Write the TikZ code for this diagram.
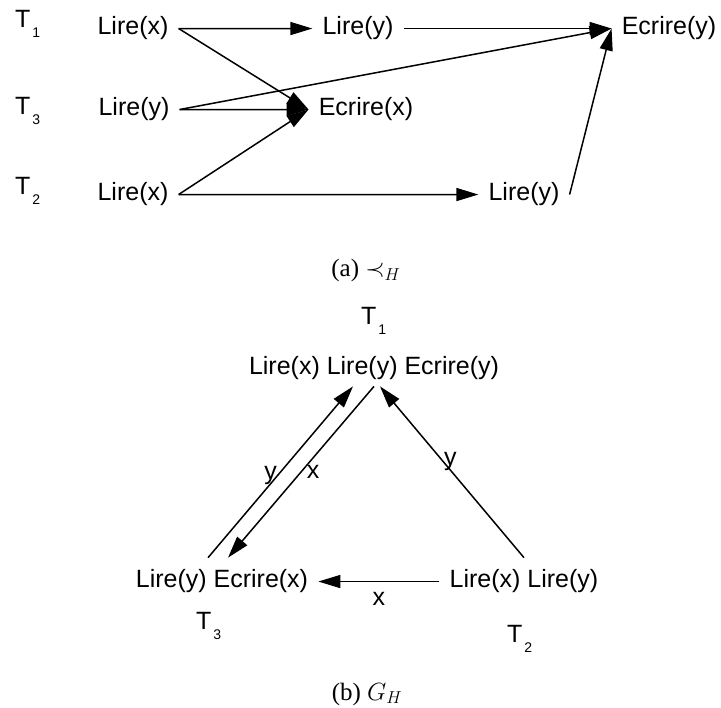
\documentclass[tikz,border=0pt]{standalone}
\usepackage{fontspec}
\setmainfont{Liberation Serif}
\setsansfont{Liberation Sans}
\usetikzlibrary{arrows.meta}

\newcommand{\tlab}[1]{T\kern2pt\raisebox{-10pt}{\fontsize{14}{14}\selectfont #1}}

\begin{document}
\begin{tikzpicture}[x=1pt, y=-1pt,
      every node/.style={font=\sffamily\fontsize{25}{29}\selectfont},
      op/.style={inner xsep=10pt, inner ysep=6pt, anchor=base},
      tr/.style={anchor=base west, inner sep=0pt},
      ar/.style={-{Triangle[length=22pt,width=13pt]}, line width=1.5pt},
      lbl/.style={inner sep=1pt},
      captxt/.style={font=\rmfamily\fontsize{25}{29}\selectfont, anchor=base}
    ]
      \useasboundingbox (0,0) rectangle (721,708);

      % (a): the three transactions, one per row
      \node[tr] (t1) at (15,28)  {\tlab{1}};
      \node[tr] (t3) at (15,115) {\tlab{3}};
      \node[tr] (t2) at (15,195) {\tlab{2}};

      \node[op] (lx1) at (133,35)  {Lire(x)};
      \node[op] (ly1) at (358,35)  {Lire(y)};
      \node[op] (ey)  at (669,35)  {Ecrire(y)};
      \node[op] (ly3) at (134,116) {Lire(y)};
      \node[op] (ex)  at (366,116) {Ecrire(x)};
      \node[op] (lx2) at (133,201) {Lire(x)};
      \node[op] (ly2) at (524,201) {Lire(y)};

      \draw[ar] (lx1) -- (ly1);
      \draw[ar] (lx1.east) -- (ex.west);
      \draw[ar] (ly3) -- (ex);
      \draw[ar] (lx2.east) -- (ex.west);
      \draw[ar] (ly3.east) -- (ey.west);
      \draw[ar] (ly1) -- (ey);
      \draw[ar] (lx2) -- (ly2);
      \draw[ar] (ly2.east) -- (ey.west);

      \node[captxt] (capa) at (366,277) {(a) $\prec_H$};

      % (b): conflict graph
      \node[tr] (b1) at (361,325) {\tlab{1}};
      \node[op] (top) at (374,375) {Lire(x) Lire(y) Ecrire(y)};
      \node[op, inner ysep=12pt] (lft) at (222,588) {Lire(y) Ecrire(x)};
      \node[op, inner ysep=12pt] (rgt) at (524,588) {Lire(x) Lire(y)};
      \node[tr] (b3) at (196,630) {\tlab{3}};
      \node[tr] (b2) at (507,642) {\tlab{2}};

      \draw[ar] ([xshift=-14pt]lft.north) -- node[lbl, pos=0.48, xshift=-7pt]{y} ([xshift=-21pt]top.south);
      \draw[ar] (top.south) -- node[lbl, pos=0.5, xshift=12pt]{x} ([xshift=6pt]lft.north);
      \draw[ar] (rgt.north) -- node[lbl, pos=0.56, xshift=7pt]{y} ([xshift=6pt]top.south);
      \draw[ar] (rgt) -- node[lbl, below=9pt]{x} (lft);

      \node[captxt] (capb) at (367,700) {(b) $G_H$};
    \end{tikzpicture}
\end{document}
